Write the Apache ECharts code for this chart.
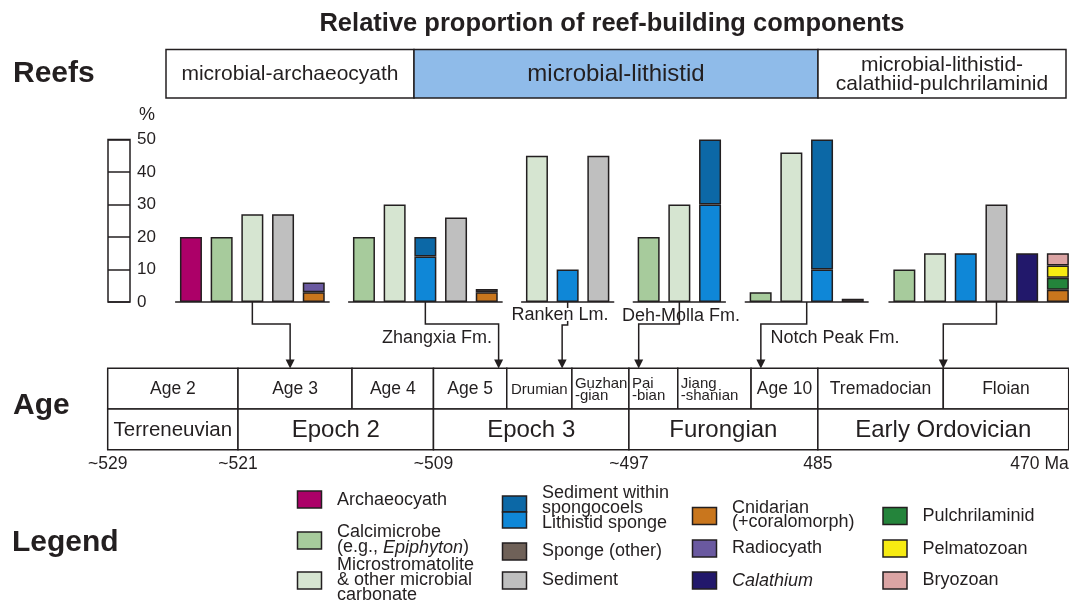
<!DOCTYPE html>
<html>
<head>
<meta charset="utf-8">
<title>Relative proportion of reef-building components</title>
<script src="https://cdn.jsdelivr.net/npm/echarts@6/dist/echarts.min.js"></script>
<style>
  html, body { margin: 0; padding: 0; background: #fff; }
  #chart { width: 1069px; height: 603px; }
</style>
</head>
<body>
<div id="chart"></div>
<script>
// ---- data ----
const components = ['Archaeocyath', 'Calcimicrobe', 'Microstromatolite', 'Lithistid sponge',
  'Sediment within spongocoels', 'Sediment', 'Cnidarian', 'Sponge (other)', 'Radiocyath',
  'Calathium', 'Pulchrilaminid', 'Pelmatozoan', 'Bryozoan'];

// one object per bar, components stacked bottom -> top (%)
const reefAge3 = [{ Archaeocyath: 20 }, { Calcimicrobe: 20 }, { Microstromatolite: 27 }, { Sediment: 27 },
  { Cnidarian: 3, Radiocyath: 3 }];
const reefZhangxia = [{ Calcimicrobe: 20 }, { Microstromatolite: 30 },
  { 'Lithistid sponge': 14, 'Sediment within spongocoels': 6 }, { Sediment: 26 },
  { Cnidarian: 3, 'Sponge (other)': 1 }];
const reefRanken = [{ Microstromatolite: 45 }, { 'Lithistid sponge': 10 }, { Sediment: 45 }];
const reefDehMolla = [{ Calcimicrobe: 20 }, { Microstromatolite: 30 },
  { 'Lithistid sponge': 30, 'Sediment within spongocoels': 20 }];
const reefNotchPeak = [{ Calcimicrobe: 3 }, { Microstromatolite: 46 },
  { 'Lithistid sponge': 10, 'Sediment within spongocoels': 40 }, { 'Sponge (other)': 1 }];
const reefFloian = [{ Calcimicrobe: 10 }, { Microstromatolite: 15 }, { 'Lithistid sponge': 15 }, { Sediment: 30 },
  { Calathium: 15 }, { Cnidarian: 3.75, Pulchrilaminid: 3.75, Pelmatozoan: 3.75, Bryozoan: 3.75 }];
const reefs = [reefAge3, reefZhangxia, reefRanken, reefDehMolla, reefNotchPeak, reefFloian];

const formations = ['', 'Zhangxia Fm.', 'Ranken Lm.', 'Deh-Molla Fm.', 'Notch Peak Fm.', ''];
const reefAgeMa = [517.8, 505, 501.1, 496.4, 488.9, 477.7];
const reefTypes = ['microbial-archaeocyath', 'microbial-lithistid', 'microbial-lithistid-\ncalathiid-pulchrilaminid'];

const stages = ['Age 2', 'Age 3', 'Age 4', 'Age 5', 'Drumian', 'Guzhan\n-gian', 'Pai\n-bian',
  'Jiang\n-shanian', 'Age 10', 'Tremadocian', 'Floian'];
const stageBounds = [529, 521, 514, 509, 504.5, 500.5, 497, 494, 489.5, 485.4, 477.7, 470];
const epochs = ['Terreneuvian', 'Epoch 2', 'Epoch 3', 'Furongian', 'Early Ordovician'];
const epochBounds = [529, 521, 509, 497, 485.4, 470];
const ageTicks = [529, 521, 509, 497, 485.4, 470];
const ageTickLabels = ['~529', '~521', '~509', '~497', '485', '470 Ma'];

const legendLabels = {
  'Archaeocyath': 'Archaeocyath',
  'Calcimicrobe': 'Calcimicrobe\n(e.g., {i|Epiphyton})',
  'Microstromatolite': 'Microstromatolite\n& other microbial\ncarbonate',
  'Sediment within spongocoels': 'Sediment within\nspongocoels\nLithistid sponge',
  'Sponge (other)': 'Sponge (other)',
  'Sediment': 'Sediment',
  'Cnidarian': 'Cnidarian\n(+coralomorph)',
  'Radiocyath': 'Radiocyath',
  'Calathium': '{i|Calathium}',
  'Pulchrilaminid': 'Pulchrilaminid',
  'Pelmatozoan': 'Pelmatozoan',
  'Bryozoan': 'Bryozoan'
};

// ---- style / layout ----
const INK = '#231f20';
const SANS = "'Liberation Sans', Arial, Helvetica, sans-serif";
const colors = {
  'Archaeocyath': '#ac0068', 'Calcimicrobe': '#a7cb9c', 'Microstromatolite': '#d6e5d1',
  'Lithistid sponge': '#0f87d7', 'Sediment within spongocoels': '#0c68a6', 'Sediment': '#bfbfbf',
  'Cnidarian': '#c9761d', 'Sponge (other)': '#6f6158', 'Radiocyath': '#6a59a0', 'Calathium': '#22186b',
  'Pulchrilaminid': '#24843b', 'Pelmatozoan': '#f7eb12', 'Bryozoan': '#dba4a4'
};
const SLOT = 30.7, BASE_Y = 302, TOP_Y = 139.5;
const barGrids = [
  { left: 175.6, anchor: 2.5 }, { left: 348.6, anchor: 2.5 }, { left: 521.6, anchor: 1.5 },
  { left: 633.3, anchor: 1.5 }, { left: 745.3, anchor: 2 }, { left: 889, anchor: 3.5 }
];
const stageFont = { 'Drumian': 15 };
const epochFont = { 'Terreneuvian': 20.5 };

const grids = [], xAxes = [], yAxes = [], series = [];

// percent scale boxes
grids.push({ left: 108, top: TOP_Y, width: 22, height: BASE_Y - TOP_Y, show: true,
  borderColor: INK, borderWidth: 1.5, outerBoundsMode: 'none', containLabel: false });
xAxes.push({ gridIndex: 0, type: 'category', data: [''], show: false });
yAxes.push({ gridIndex: 0, type: 'value', min: 0, max: 50, interval: 10, position: 'right',
  axisLine: { show: false }, axisTick: { show: false },
  splitLine: { show: true, lineStyle: { color: INK, width: 1.5 } },
  axisLabel: { margin: 7, fontSize: 17, color: INK, fontFamily: SANS } });
series.push({ type: 'bar', xAxisIndex: 0, yAxisIndex: 0, data: [] });

// one grid per reef
reefs.forEach((bars, r) => {
  const gi = grids.length;
  grids.push({ left: barGrids[r].left, top: TOP_Y, width: bars.length * SLOT, height: BASE_Y - TOP_Y,
    outerBoundsMode: 'none', containLabel: false });
  xAxes.push({ gridIndex: gi, type: 'category', data: bars.map((_, i) => String(i)),
    axisLine: { show: true, lineStyle: { color: INK, width: 1.5 } },
    axisTick: { show: false }, axisLabel: { show: false } });
  yAxes.push({ gridIndex: gi, type: 'value', min: 0, max: 50, show: false });
  components.forEach(c => {
    if (!bars.some(b => b[c] != null)) return;
    series.push({
      type: 'bar', name: c, xAxisIndex: gi, yAxisIndex: gi, stack: 'reef' + r, barWidth: 22,
      data: bars.map(b => (b[c] != null ? b[c] : null)),
      itemStyle: { color: colors[c], borderColor: INK, borderWidth: 1.5 }
    });
  });
});

// geological time table
const tg = grids.length;
grids.push({ left: 107.7, top: 368.3, width: 961, height: 81.4, outerBoundsMode: 'none', containLabel: false });
xAxes.push({ gridIndex: tg, type: 'value', min: 470, max: 529, inverse: true,
  axisLine: { show: false }, axisTick: { show: false }, splitLine: { show: false },
  axisLabel: {
    customValues: ageTicks.slice().sort((a, b) => a - b), margin: 5, fontSize: 17.5,
    color: INK, fontFamily: SANS, alignMinLabel: 'right', alignMaxLabel: 'center',
    formatter: v => ageTickLabels[ageTicks.findIndex(t => Math.abs(t - v) < 0.01)]
  } });
yAxes.push({ gridIndex: tg, type: 'value', min: 0, max: 2, show: false });

function cellSeries(labels, bounds, row, sizeOf) {
  return {
    type: 'custom', xAxisIndex: tg, yAxisIndex: tg, silent: true,
    data: labels.map((_, i) => [bounds[i], bounds[i + 1]]),
    encode: { x: [0, 1] },
    renderItem: (params, api) => {
      const i = params.dataIndex;
      const p0 = api.coord([bounds[i], row + 1]);
      const p1 = api.coord([bounds[i + 1], row]);
      const multi = labels[i].indexOf('\n') >= 0;
      return { type: 'group', children: [
        { type: 'rect', shape: { x: p0[0], y: p0[1], width: p1[0] - p0[0], height: p1[1] - p0[1] },
          style: { fill: '#fff', stroke: INK, lineWidth: 1.5 } },
        { type: 'text', style: {
          text: labels[i], x: multi ? p0[0] + 3 : (p0[0] + p1[0]) / 2, y: (p0[1] + p1[1]) / 2 + 1,
          align: multi ? 'left' : 'center', verticalAlign: 'middle',
          fontSize: sizeOf(labels[i], multi), lineHeight: multi ? 12 : undefined,
          fontFamily: SANS, fill: INK } }
      ] };
    }
  };
}
series.push(cellSeries(stages, stageBounds, 1, (s, multi) => multi ? 15 : (stageFont[s] || 17.5)));
series.push(cellSeries(epochs, epochBounds, 0, s => epochFont[s] || 24));

const chart = echarts.init(document.getElementById('chart'));
chart.setOption({
  animation: false,
  grid: grids, xAxis: xAxes, yAxis: yAxes, series: series
});

// ---- annotations ----
const g = [];
const txt = (x, y, text, size, extra) => g.push({ type: 'text', x: x, y: y, silent: true,
  style: Object.assign({ text: text, fontSize: size, fontFamily: SANS, fill: INK,
    align: 'center', verticalAlign: 'middle' }, extra || {}) });

txt(612, 24, 'Relative proportion of reef-building components', 25.5, { fontWeight: 'bold' });
txt(13, 74, 'Reefs', 30, { fontWeight: 'bold', align: 'left' });
txt(13, 406, 'Age', 30, { fontWeight: 'bold', align: 'left' });
txt(12, 543, 'Legend', 30, { fontWeight: 'bold', align: 'left' });
txt(147, 115, '%', 18);

// reef-type header
const headerX = [166, 414, 818, 1066];
const headerFill = ['#fff', '#8fbbe9', '#fff'];
const headerSize = [21, 24, 21];
reefTypes.forEach((t, i) => {
  g.push({ type: 'rect', silent: true,
    shape: { x: headerX[i], y: 49.5, width: headerX[i + 1] - headerX[i], height: 48.5 },
    style: { fill: headerFill[i], stroke: INK, lineWidth: 1.5 } });
  txt((headerX[i] + headerX[i + 1]) / 2, 74.5, t, headerSize[i], { lineHeight: 19 });
});

// connectors from reef bars to time table
reefs.forEach((bars, r) => {
  const ax = barGrids[r].left + barGrids[r].anchor * SLOT;
  const tx = chart.convertToPixel({ xAxisIndex: tg }, reefAgeMa[r]);
  let pts;
  if (r === 2) {
    g.push({ type: 'polyline', silent: true, shape: { points: [[ax, BASE_Y], [ax, 308]] },
      style: { stroke: INK, lineWidth: 1.5, fill: null } });
    pts = [[ax, 321], [ax, 325], [tx, 325], [tx, 361]];
  } else {
    pts = [[ax, BASE_Y], [ax, 324], [tx, 324], [tx, 361]];
  }
  g.push({ type: 'polyline', silent: true, shape: { points: pts },
    style: { stroke: INK, lineWidth: 1.5, fill: null } });
  g.push({ type: 'polygon', silent: true,
    shape: { points: [[tx - 4.5, 359.5], [tx + 4.5, 359.5], [tx, 368.5]] }, style: { fill: INK } });
});
const formationPos = [null, [437, 338], [560, 315], [681, 316], [835, 338], null];
formations.forEach((f, r) => { if (f) txt(formationPos[r][0], formationPos[r][1], f, 18); });

// legend
const legendSlots = [
  ['Archaeocyath', 297.5, 491, 500], ['Calcimicrobe', 297.5, 532, 540],
  ['Microstromatolite', 297.5, 572, 580],
  ['Sediment within spongocoels', 502.5, 496, 508], ['Sponge (other)', 502.5, 543, 551],
  ['Sediment', 502.5, 572, 580],
  ['Cnidarian', 692.5, 507.5, 515], ['Radiocyath', 692.5, 540, 548], ['Calathium', 692.5, 572, 581],
  ['Pulchrilaminid', 883, 507.5, 516], ['Pelmatozoan', 883, 540, 549], ['Bryozoan', 883, 572, 580]
];
legendSlots.forEach(([key, sx, sy, ty]) => {
  const sw = 24, sh = 17;
  if (key === 'Sediment within spongocoels') {
    g.push({ type: 'rect', silent: true, shape: { x: sx, y: sy, width: sw, height: 16 },
      style: { fill: colors[key], stroke: INK, lineWidth: 1.5 } });
    g.push({ type: 'rect', silent: true, shape: { x: sx, y: sy + 16, width: sw, height: 16 },
      style: { fill: colors['Lithistid sponge'], stroke: INK, lineWidth: 1.5 } });
  } else {
    g.push({ type: 'rect', silent: true, shape: { x: sx, y: sy, width: sw, height: sh },
      style: { fill: colors[key], stroke: INK, lineWidth: 1.5 } });
  }
  const lh = key === 'Cnidarian' ? 14 : 15;
  txt(sx + 39.5, ty, legendLabels[key], 18, {
    align: 'left', lineHeight: lh,
    rich: { i: { fontStyle: 'italic', fontSize: 18, fontFamily: SANS, fill: INK, lineHeight: lh } }
  });
});

chart.setOption({ graphic: { elements: g } });
</script>
</body>
</html>
